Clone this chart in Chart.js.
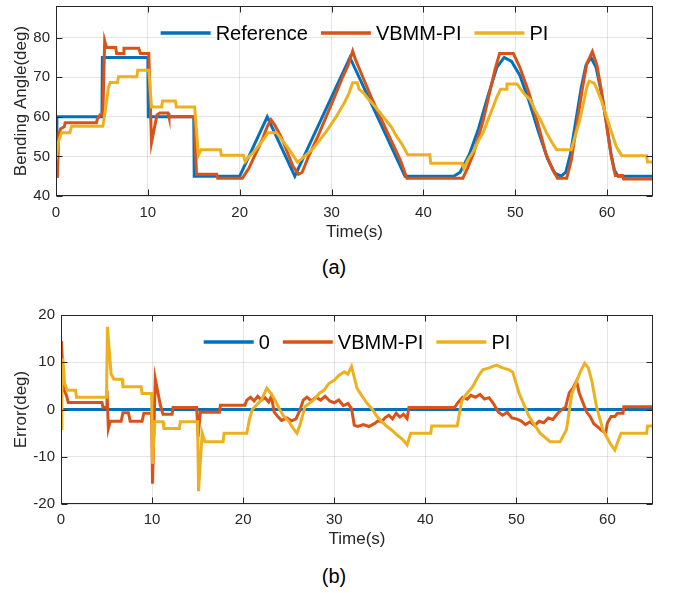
<!DOCTYPE html>
<html>
<head>
<meta charset="utf-8">
<script src="https://cdn.jsdelivr.net/npm/chart.js@4.4.1/dist/chart.umd.min.js"></script>
<style>
  body { margin: 0; background: #fff; width: 679px; height: 593px; position: relative; overflow: hidden; }
  canvas { position: absolute; left: 0; }
  #chartA { top: 0; }
  #chartB { top: 290px; }
  .cap { position: absolute; font: 20px "Liberation Sans", Arial, sans-serif; color: #000; width: 60px; text-align: center; }
</style>
</head>
<body>
<canvas id="chartA" width="679" height="245"></canvas>
<canvas id="chartB" width="679" height="265"></canvas>
<div class="cap" style="left:304px; top:256px;">(a)</div>
<div class="cap" style="left:304px; top:565px;">(b)</div>
<script>
// ---- data: (a) bending angle ----
const xTicks = [0, 10, 20, 30, 40, 50, 60];
const yTicksA = [40, 50, 60, 70, 80];
const yTicksB = [-20, -10, 0, 10, 20];

const refT = [0, 0.1, 5, 5.05, 10, 10.05, 15, 15.05, 20, 23, 26, 32, 38, 43.3, 44, 45, 46, 47, 48, 48.8, 49.6, 50.5, 51.5, 52.5, 53.5, 54.3, 55, 55.5, 56, 56.6, 57.2, 57.7, 58.25, 58.8, 59.3, 59.9, 60.4, 60.8, 61.2, 65];
const refV = [45, 60, 60, 75, 75, 60, 60, 45, 45, 60, 45, 75, 45, 45, 46, 50.5, 57, 65, 72.5, 75, 74, 70.5, 64, 56.5, 49.5, 45.8, 45, 46, 50.5, 59, 67.5, 73, 75, 72.5, 67, 59, 51, 46.5, 45, 45];

const vbmmT = [0, 0.15, 0.3, 0.5, 0.9, 1.0, 4.4, 4.5, 4.8, 5.1, 5.3, 5.5, 6.5, 6.6, 7.3, 7.4, 9.0, 9.2, 10.1, 10.4, 10.7, 11.0, 11.3, 12.2, 12.3, 15.05, 15.3, 17.5, 17.6, 20.3, 21, 21.5, 22, 22.5, 23, 23.4, 23.8, 24.5, 25.2, 25.8, 26.4, 26.8, 27.5, 28.5, 29.5, 30.5, 31.2, 31.8, 32.3, 32.6, 33.5, 34.5, 35.5, 36.5, 37.5, 38.2, 44.3, 44.8, 45.5, 46.5, 47.3, 47.8, 48.3, 49.8, 50.5, 51.5, 52.5, 53.3, 54, 54.6, 55.6, 56.1, 56.7, 57.3, 57.8, 58.4, 58.9, 59.5, 60, 60.5, 60.9, 61.7, 61.8, 65];
const vbmmV = [45, 45, 55.5, 57, 57.5, 58.5, 58.5, 59.5, 60.5, 60.5, 79.2, 77.5, 77.5, 76, 76, 77.3, 77.3, 76, 76, 53.5, 57, 60.5, 61, 61, 60, 60, 45.5, 45.5, 44.5, 44.5, 47, 49.5, 52, 54.5, 57.5, 59.3, 58, 55, 51, 47.5, 45.5, 46, 50, 55, 60.5, 66, 70, 73, 76.6, 74.5, 69.5, 64, 59, 54, 49, 44.5, 44.5, 47, 51, 59, 67, 72, 76, 76, 72.5, 66, 58, 51, 47, 44.5, 44.5, 49, 58, 67, 73.5, 76.5, 73, 65, 57, 49.5, 45.2, 45.2, 44.3, 44.3];

const piT = [0, 0.3, 0.6, 1.5, 1.7, 5.1, 5.4, 5.7, 5.9, 6.7, 6.8, 8.8, 8.9, 10.1, 10.4, 11.5, 11.6, 13.0, 13.1, 15.1, 15.5, 15.8, 17.9, 18.0, 20.4, 20.6, 21, 21.5, 22, 22.5, 23.1, 24, 24.5, 25, 25.6, 26.3, 26.8, 27.3, 28, 28.5, 29, 29.5, 30, 30.5, 31, 31.5, 31.9, 32.3, 32.8, 33, 33.5, 34, 34.6, 35.3, 35.8, 36.5, 37.1, 37.7, 38.3, 40.7, 40.8, 44.2, 44.4, 44.8, 45.5, 46, 46.5, 47, 47.5, 48, 48.4, 49, 49.1, 50.2, 50.6, 51.1, 51.6, 52.2, 52.8, 53.4, 54, 54.5, 56.1, 57, 57.8, 58.05, 58.6, 58.9, 59.4, 59.95, 60.5, 61, 61.6, 64.3, 64.4, 65];
const piV = [49, 54, 56, 56, 57.6, 57.6, 62, 67.3, 68.7, 68.7, 70.1, 70.1, 71.8, 71.8, 62.5, 62.5, 64, 64, 62.5, 62.5, 50.3, 51.7, 51.7, 50.3, 50.3, 48.7, 50, 51, 52.5, 54, 56, 56, 54.5, 53, 51, 48.5, 49.5, 50.5, 52, 53.5, 55, 56.5, 58.3, 60, 62, 64, 66, 68.6, 68.6, 67, 66, 64.5, 63, 61, 59.5, 57.5, 55, 53, 50.4, 50.4, 48.3, 48.3, 47, 49, 51.5, 54, 56, 59, 62, 65, 67, 67, 68.3, 68.3, 67, 65.5, 64.4, 61.5, 59, 56, 53.5, 51.7, 51.7, 59, 67.5, 69, 68.5, 67, 64, 60, 56, 52.5, 50.2, 50.2, 48.6, 48.6];

// ---- data: (b) error ----
const zeroT = [0, 65];
const zeroV = [0, 0];

const errVbmmT = [0, 0.05, 0.2, 0.35, 0.6, 0.8, 4.5, 4.6, 4.95, 5.05, 5.2, 5.4, 6.6, 6.8, 7.4, 7.6, 8.9, 9.1, 9.95, 10.05, 10.15, 10.35, 10.6, 10.9, 11.2, 12.2, 12.3, 14.9, 15.05, 15.3, 17.4, 17.5, 20.2, 20.4, 20.8, 21.2, 21.6, 22, 22.4, 22.8, 23.1, 23.4, 23.8, 24.2, 24.8, 25.3, 25.8, 26.2, 26.6, 27, 27.5, 28, 28.5, 29, 29.5, 30, 30.5, 31, 31.5, 31.9, 32.2, 32.6, 33.2, 33.8, 34.4, 34.8, 35.2, 35.6, 36, 36.4, 36.8, 37.2, 37.6, 38.0, 38.2, 43.2, 43.6, 44.1, 44.6, 45, 45.5, 46, 46.5, 47, 47.5, 48, 48.5, 49, 49.5, 50, 50.5, 51, 51.5, 52, 52.5, 53, 53.5, 54, 54.5, 55, 55.4, 55.8, 56.2, 56.6, 56.9, 57.3, 57.7, 58.1, 58.5, 59, 59.4, 59.8, 60, 60.4, 60.8, 61.1, 61.7, 61.8, 65];
const errVbmmV = [0, 14.5, 8, 4, 3, 1.5, 1.5, 0.5, 0.5, 4, -4, -2.5, -2.5, -0.7, -0.7, -2.5, -2.5, -0.8, -0.8, -15.7, -8, 6.5, 4, 1, -1, -1, 0.4, 0.4, -5.8, -0.6, -0.6, 0.9, 0.9, 2, 2.6, 1.8, 2.8, 2, 2.5, 1.6, 2.8, -0.5, -1.5, -2.3, -1.8, -2.4, -2, -0.3, 2, 2.6, 1.8, 2.6, 2, 2.8, 1.8, 1.4, 2, 0.8, 1.3, 0.2, -3.3, -3.6, -3.2, -3.6, -3, -2.4, -2.6, -1.7, -1.2, -2, -0.8, -1.6, -1, -1.9, 0.4, 0.4, 1.5, 2.6, 2.2, 3, 2.6, 3.2, 2.2, 2.5, 1.2, -0.5, -1.2, -0.6, -1.8, -2, -2.4, -3.2, -2.6, -3.4, -2.5, -2.8, -1.8, -2.1, -0.9, 0, 0.5, 3.5, 4.5, 6, 3.5, 1.5, -0.5, -1.5, -3, -3.8, -4.5, -5, -2.8, -1.5, -1.5, -0.8, -0.8, 0.6, 0.6];

const errPiT = [0, 0.1, 0.2, 0.4, 0.7, 1.6, 1.7, 5.0, 5.1, 5.5, 5.8, 6.7, 6.8, 8.8, 8.9, 9.95, 10.05, 10.3, 11.2, 11.3, 13.0, 13.1, 15.0, 15.1, 15.5, 15.8, 17.8, 17.9, 20.4, 20.7, 21, 21.5, 22, 22.6, 23, 23.5, 24, 24.5, 25, 25.5, 25.9, 26.2, 26.8, 27.4, 27.9, 28.4, 28.9, 29.4, 30, 30.5, 31.1, 31.5, 31.9, 32.5, 33, 33.6, 34.2, 34.7, 35.2, 35.8, 36.4, 36.9, 37.5, 38, 38.4, 40.6, 40.7, 43.5, 44, 44.6, 45.2, 45.8, 46.3, 47, 47.8, 48.5, 49.2, 49.6, 50.3, 51.4, 52.6, 53.7, 54.8, 55.5, 56.1, 57, 57.5, 57.9, 58.3, 58.8, 59.5, 60.3, 60.8, 61.2, 61.5, 64.3, 64.4, 65];
const errPiV = [-4, 5, 10.8, 5.5, 4.1, 4.1, 2.6, 2.6, 17.5, 7.5, 6.4, 6.4, 4.8, 4.8, 3.4, 3.4, -11.5, -2.6, -2.6, -4, -4, -2.6, -2.6, -17.3, -5, -6.8, -6.8, -5, -5, -2, 0, 1, 2, 4.5, 3.5, 2, 0, -1.5, -2.5, -4, -5, -3.5, 0.6, 1.5, 2.3, 3.5, 4.1, 5.5, 6.2, 7.2, 8, 7.5, 9.1, 4.5, 3, 1.3, 0, -1.5, -2.5, -3.6, -4.5, -5.4, -6.3, -7.5, -5, -5, -3.5, -3.5, 1.8, 3.5, 4.8, 7, 8.4, 8.8, 9.4, 8.8, 8.4, 7.9, 3.4, -1.5, -5, -6.8, -6.8, -4.3, 3.4, 7.9, 9.8, 8.8, 5.9, 0.6, -4.3, -7.2, -8.6, -6.5, -5, -5, -3.5, -3.5];

const BLUE = '#0072BD', ORANGE = '#D95319', YELLOW = '#EDB120';
const AXIS = '#262626';
const FONT = '"Liberation Sans", Arial, Helvetica, sans-serif';

Chart.defaults.font.family = FONT;
Chart.defaults.color = AXIS;

function pts(ts, vs) {
  return ts.map((t, i) => ({ x: t, y: vs[i] }));
}

function line(label, ts, vs, color, order) {
  return { label, data: pts(ts, vs), borderColor: color, backgroundColor: color, borderWidth: 3, pointRadius: 0, tension: 0, fill: false, order };
}

// box, inward tick marks and the legend inside the plot
const framePlugin = {
  id: 'frame',
  afterDraw(chart) {
    const { ctx, chartArea: a, scales } = chart;
    ctx.save();
    ctx.strokeStyle = AXIS;
    ctx.lineWidth = 1;
    const L = Math.round(a.left) + 0.5, R = Math.round(a.right) - 0.5;
    const T = Math.round(a.top) + 0.5, B = Math.round(a.bottom) - 0.5;
    ctx.strokeRect(L, T, R - L, B - T);
    ctx.beginPath();
    scales.x.ticks.forEach(tk => {
      const px = Math.round(scales.x.getPixelForValue(tk.value)) + 0.5;
      ctx.moveTo(px, B); ctx.lineTo(px, B - 6);
      ctx.moveTo(px, T); ctx.lineTo(px, T + 6);
    });
    scales.y.ticks.forEach(tk => {
      const py = Math.round(scales.y.getPixelForValue(tk.value)) + 0.5;
      ctx.moveTo(L, py); ctx.lineTo(L + 6, py);
      ctx.moveTo(R, py); ctx.lineTo(R - 6, py);
    });
    ctx.stroke();

    // legend
    const items = chart.data.datasets;
    ctx.font = '20px ' + FONT;
    const lineLen = 50, gap = 5, itemGap = 13;
    const widths = items.map(d => lineLen + gap + ctx.measureText(d.label).width);
    const total = widths.reduce((s, w) => s + w, 0) + itemGap * (items.length - 1);
    let x = (a.left + a.right) / 2 - total / 2;
    const y = a.top + 27;
    items.forEach((d, i) => {
      ctx.strokeStyle = d.borderColor;
      ctx.lineWidth = 3.5;
      ctx.beginPath();
      ctx.moveTo(x, y); ctx.lineTo(x + lineLen, y);
      ctx.stroke();
      ctx.fillStyle = '#000';
      ctx.textBaseline = 'middle';
      ctx.fillText(d.label, x + lineLen + gap, y + 1);
      x += widths[i] + itemGap;
    });
    ctx.restore();
  }
};

function makeChart(id, datasets, yMin, yMax, yTicks, yTitle, pad, yWidth, xHeight, xTickPad, xTitlePad) {
  return new Chart(document.getElementById(id), {
    type: 'line',
    data: { datasets },
    options: {
      responsive: false,
      animation: false,
      devicePixelRatio: 1,
      layout: { padding: pad },
      plugins: { legend: { display: false }, tooltip: { enabled: false } },
      scales: {
        x: {
          type: 'linear', min: 0, max: 65,
          afterBuildTicks: s => { s.ticks = xTicks.map(v => ({ value: v })); },
          afterFit: s => { s.height = xHeight; s.paddingLeft = 0; s.paddingRight = 0; },
          grid: { color: 'rgba(38,38,38,0.12)', drawTicks: false },
          border: { display: false },
          ticks: { padding: xTickPad, font: { size: 15 }, color: AXIS },
          title: { display: true, text: 'Time(s)', font: { size: 17 }, color: AXIS, padding: { top: 0, bottom: xTitlePad } }
        },
        y: {
          type: 'linear', min: yMin, max: yMax,
          afterBuildTicks: s => { s.ticks = yTicks.map(v => ({ value: v })); },
          afterFit: s => { s.width = yWidth; s.paddingTop = 0; s.paddingBottom = 0; },
          grid: { color: 'rgba(38,38,38,0.12)', drawTicks: false },
          border: { display: false },
          ticks: { padding: 6, font: { size: 15 }, color: AXIS },
          title: { display: true, text: yTitle, font: { size: 17 }, color: AXIS, padding: { top: 11.5, bottom: 0 } }
        }
      }
    },
    plugins: [framePlugin]
  });
}

makeChart('chartA', [
  line('Reference', refT, refV, BLUE, 2),
  line('VBMM-PI', vbmmT, vbmmV, ORANGE, 1),
  line('PI', piT, piV, YELLOW, 0)
], 40, 88, yTicksA, 'Bending Angle(deg)', { top: 6, right: 26, left: 0, bottom: 0 }, 56, 49, 8, 2);

makeChart('chartB', [
  line('0', zeroT, zeroV, BLUE, 2),
  line('VBMM-PI', errVbmmT, errVbmmV, ORANGE, 1),
  line('PI', errPiT, errPiV, YELLOW, 0)
], -20, 20, yTicksB, 'Error(deg)', { top: 25, right: 26, left: 0, bottom: 0 }, 61, 51, 7, 5);
</script>
</body>
</html>
